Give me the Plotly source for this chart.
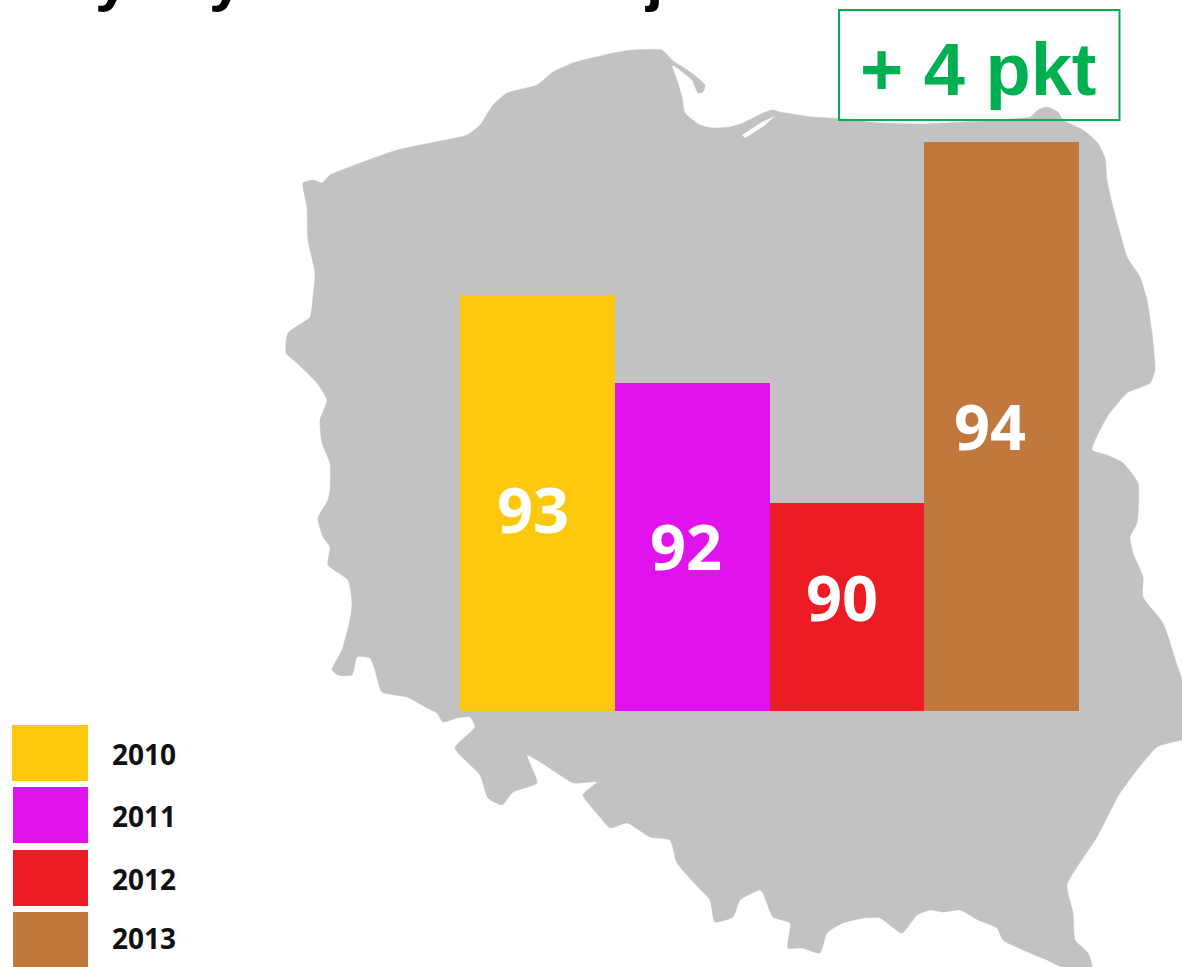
import plotly.graph_objects as go

# ---- chart data ----
years = ["2010", "2011", "2012", "2013"]
values = [93, 92, 90, 94]
# The source picture does not draw its bars to a linear scale of the values,
# so bar heights are read separately from the picture (axis units).
drawn_heights = [416, 328, 208, 569]
colors = ["#FEC80C", "#E012EE", "#ED1C24", "#C0783C"]
badge_text = "<b>+ 4 pkt</b>"

# ---- background decoration: outline of Poland, traced in page pixels ----
map_x = [303,313,322,330,363,397,430,467,480,493,507,537,553,573,613,633,662,672,690,705,703,698,692,672,677,682,685,700,713,730,
         743,763,773,780,813,847,880,923,963,997,1030,1038,1047,1058,1063,1083,1097,1105,1107,1112,1120,1127,1140,1147,1152,1155,1150,1127,1107,1092,
         1107,1123,1138,1137,1130,1133,1143,1143,1163,1177,1182,1182,1182,1157,1120,1097,1067,1073,1075,1088,1092,1062,1047,1030,1003,997,978,960,943,930,917,902,
         880,863,843,827,820,802,788,790,773,763,760,740,733,715,710,698,677,670,650,627,610,600,583,597,573,560,527,537,513,502,
         488,480,455,475,470,457,443,437,427,407,382,375,370,357,352,338,332,342,350,352,348,328,330,323,318,328,
         330,330,322,320,327,317,297,286,288,310,313,315,308,307,303]
map_y = [183,180,183,175,162,150,143,135,125,105,93,85,72,63,53,50,50,60,72,85,92,93,80,65,80,97,113,125,128,127,
         123,113,110,112,117,119,123,124,122,120,117,110,107,112,120,130,142,158,180,203,233,257,277,300,333,370,383,393,417,450,
         455,463,483,523,537,553,577,597,623,665,680,740,740,747,793,837,885,913,940,953,967,967,960,953,940,928,920,910,912,910,915,933,
         918,918,923,933,953,948,948,923,917,893,890,900,917,922,900,887,863,840,837,823,828,817,795,782,783,775,755,783,792,805,
         798,775,748,727,717,718,722,713,708,697,692,670,658,657,675,675,670,650,620,603,580,565,547,537,518,500,
         490,463,443,420,400,383,363,353,333,317,297,273,240,207,183]
lagoon_x = [775,764,745,742,762]
lagoon_y = [116,126,138,135,122]

# ---- page layout (pixels) ----
W, H = 1182, 967
BAR_LEFT, BAR_RIGHT, BAR_BASE = 460, 1079, 711
swatch_boxes = [(12, 88, 725, 781), (13, 88, 787, 843), (13, 88, 850, 906), (13, 88, 912, 967)]
legend_label_y = [754, 816, 879, 938]
label_centres = [(533, 508), (686, 545), (842, 596), (990, 425)]
title_bits = [("y", 112), ("y", 226), ("j", 654)]

fig = go.Figure()

fig.add_trace(go.Scatter(x=map_x, y=map_y, mode="lines", fill="toself", fillcolor="#C2C2C2",
                         line=dict(width=0.5, color="#C2C2C2", shape="spline", smoothing=0.5),
                         hoverinfo="skip", xaxis="x", yaxis="y"))
fig.add_trace(go.Scatter(x=lagoon_x, y=lagoon_y, mode="lines", fill="toself", fillcolor="#FFFFFF",
                         line=dict(width=0, color="#FFFFFF"), hoverinfo="skip", xaxis="x", yaxis="y"))
fig.add_trace(go.Bar(x=years, y=drawn_heights, marker=dict(color=colors, line=dict(width=0)),
                     customdata=values, hovertemplate="%{x}: %{customdata}<extra></extra>",
                     xaxis="x2", yaxis="y2"))

shapes = []
annotations = []
for box, colour in zip(swatch_boxes, colors):
    shapes.append(dict(type="rect", xref="x", yref="y", x0=box[0], x1=box[1], y0=box[2], y1=box[3],
                       fillcolor=colour, line=dict(width=0), layer="above"))
for year, ly in zip(years, legend_label_y):
    annotations.append(dict(text=year, xref="x", yref="y", x=110, y=ly, xanchor="left", yanchor="middle",
                            showarrow=False, font=dict(family="Open Sans", size=28, color="#111111", weight="bold")))
for value, (cx, cy) in zip(values, label_centres):
    annotations.append(dict(text=str(value), xref="x", yref="y", x=cx, y=cy, xanchor="center", yanchor="middle",
                            showarrow=False, font=dict(family="Open Sans", size=63, color="#FFFFFF", weight="bold")))

# Green badge
shapes.append(dict(type="rect", xref="x", yref="y", x0=839, x1=1119.5, y0=10, y1=120,
                   line=dict(color="#00B050", width=2), fillcolor="rgba(0,0,0,0)", layer="above"))
annotations.append(dict(text=badge_text, xref="x", yref="y", x=978, y=69, xanchor="center", yanchor="middle",
                        showarrow=False, font=dict(family="Liberation Sans", size=74, color="#00B050")))
# Title cut off by the top edge: only descenders are visible
for ch, tx in title_bits:
    annotations.append(dict(text="<b>" + ch + "</b>", xref="x", yref="y", x=tx, y=14, xanchor="center", yanchor="bottom",
                            showarrow=False, font=dict(family="Liberation Sans", size=62, color="#000000")))

fig.update_layout(
    font=dict(family="Liberation Sans"),
    width=W, height=H, margin=dict(l=0, r=0, t=0, b=0),
    paper_bgcolor="#FFFFFF", plot_bgcolor="rgba(0,0,0,0)",
    showlegend=False, bargap=0, shapes=shapes, annotations=annotations,
    xaxis=dict(domain=[0, 1], range=[0, W], visible=False, fixedrange=True),
    yaxis=dict(domain=[0, 1], range=[H, 0], visible=False, fixedrange=True),
    xaxis2=dict(domain=[BAR_LEFT / W, BAR_RIGHT / W], anchor="y2", type="category", range=[-0.5, 3.5],
                visible=False, fixedrange=True),
    yaxis2=dict(domain=[(H - BAR_BASE) / H, 1], anchor="x2", range=[0, BAR_BASE], visible=False, fixedrange=True),
)

fig.write_html("out.html", config={"displayModeBar": False},
               post_script="document.body.style.margin='0';document.documentElement.style.overflow='hidden';window.dispatchEvent(new Event('resize'));")
